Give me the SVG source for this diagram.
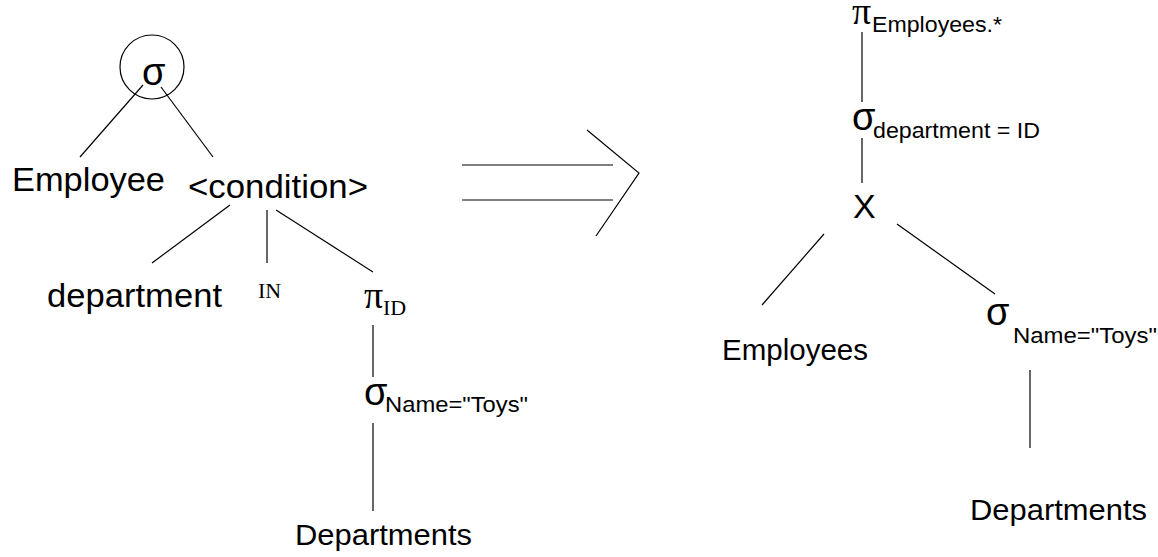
<svg xmlns="http://www.w3.org/2000/svg" width="1158" height="557" viewBox="0 0 1158 557">
<style>
.s{font-family:"Liberation Sans",Arial,sans-serif;fill:#000}
.g{font-family:"Liberation Serif","Times New Roman",serif;fill:#000}
.sg{font-family:"Liberation Sans",Arial,sans-serif;fill:#000;font-size:38px}
.t{font-family:"Liberation Serif","Times New Roman",serif;fill:#000;font-size:22px}
.c line,.c polyline,.c circle{stroke:#000;stroke-width:1.2;fill:none}
</style>
<rect width="1158" height="557" fill="#fff"/>
<g class="c" id="connectors">
<circle cx="152" cy="67" r="32"/>
<line x1="143" y1="85" x2="80" y2="157"/>
<line x1="161" y1="87" x2="213" y2="157"/>
<line x1="230" y1="205" x2="152" y2="263"/>
<line x1="267" y1="210" x2="267" y2="263"/>
<line x1="276" y1="210" x2="373" y2="272"/>
<line x1="373" y1="325" x2="373" y2="377"/>
<line x1="373" y1="423" x2="373" y2="511"/>
<line x1="462" y1="165" x2="613" y2="165"/>
<line x1="462" y1="200" x2="613" y2="200"/>
<polyline points="587,130 639,173 596,236"/>
<line x1="862" y1="32" x2="862" y2="102"/>
<line x1="862" y1="138" x2="862" y2="183"/>
<line x1="824" y1="234" x2="762" y2="305"/>
<line x1="897" y1="224" x2="995" y2="294"/>
<line x1="1030" y1="370" x2="1030" y2="448"/>
</g>
<g id="sigma1"><text class="sg" x="142" y="85">σ</text></g>
<g id="employee"><text class="s" x="12" y="191" font-size="33" textLength="153" lengthAdjust="spacingAndGlyphs">Employee</text></g>
<g id="condition"><text class="s" x="188" y="198" font-size="33" textLength="180" lengthAdjust="spacingAndGlyphs">&lt;condition&gt;</text></g>
<g id="department"><text class="s" x="47" y="307" font-size="33" textLength="175" lengthAdjust="spacingAndGlyphs">department</text></g>
<g id="in"><text class="t" x="258" y="298">IN</text></g>
<g id="piID"><text class="g" x="364" y="308" font-size="38">π</text><text class="t" x="383" y="315">ID</text></g>
<g id="sigmaToys1"><text class="sg" x="364" y="405">σ</text><text class="s" x="385" y="412" font-size="22" textLength="143" lengthAdjust="spacingAndGlyphs">Name="Toys"</text></g>
<g id="departments1"><text class="s" x="295" y="545" font-size="30" textLength="177" lengthAdjust="spacingAndGlyphs">Departments</text></g>
<g id="piEmp"><text class="g" x="852" y="24" font-size="38">π</text><text class="s" x="872" y="32" font-size="22" textLength="130" lengthAdjust="spacingAndGlyphs">Employees.*</text></g>
<g id="sigmaDept"><text class="sg" x="852" y="130">σ</text><text class="s" x="873" y="138" font-size="22" textLength="167" lengthAdjust="spacingAndGlyphs">department = ID</text></g>
<g id="cross"><text class="s" x="853" y="218" font-size="34">X</text></g>
<g id="employees"><text class="s" x="722" y="360" font-size="30" textLength="146" lengthAdjust="spacingAndGlyphs">Employees</text></g>
<g id="sigmaToys2"><text class="sg" x="986" y="325">σ</text><text class="s" x="1013" y="343" font-size="22" textLength="144" lengthAdjust="spacingAndGlyphs">Name="Toys"</text></g>
<g id="departments2"><text class="s" x="970" y="520" font-size="30" textLength="177" lengthAdjust="spacingAndGlyphs">Departments</text></g>
</svg>
